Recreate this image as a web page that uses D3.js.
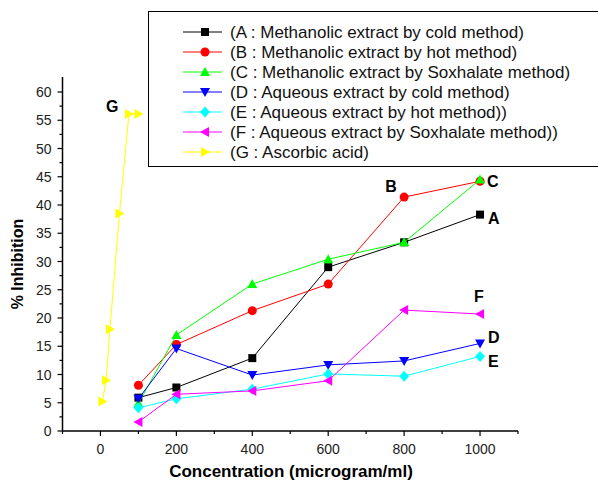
<!DOCTYPE html>
<html>
<head>
<meta charset="utf-8">
<script src="https://cdn.jsdelivr.net/npm/d3@7"></script>
<style>
  body { margin: 0; background: #fff; }
  svg { font-family: Arial, "Liberation Sans", sans-serif; }
</style>
</head>
<body>
<div id="chart"></div>
<script>
// concentrations for the extracts
var conc = [100, 200, 400, 600, 800, 1000];
var seriesA = [5.9, 7.7, 12.9, 29.0, 33.4, 38.3];
var seriesB = [8.1, 15.3, 21.3, 26.0, 41.4, 44.2];
var seriesC = [4.9, 17.0, 26.0, 30.4, 33.4, 44.5];
var seriesD = [5.7, 14.6, 9.9, 11.7, 12.4, 15.5];
var seriesE = [4.1, 5.7, 7.4, 10.1, 9.7, 13.2];
var seriesF = [1.6, 6.5, 7.1, 8.9, 21.4, 20.7];
// ascorbic acid has its own concentrations
var concG = [5, 15, 25, 50, 75, 100];
var seriesG = [5.2, 9.0, 18.0, 38.5, 56.1, 56.1];

var legendLabels = [
  "(A : Methanolic extract by cold method)",
  "(B : Methanolic extract by hot method)",
  "(C : Methanolic extract by Soxhalate method)",
  "(D : Aqueous extract by cold method)",
  "(E : Aqueous extract by hot method))",
  "(F : Aqueous extract by Soxhalate method))",
  "(G : Ascorbic acid)"
];
var colors = ["#000000", "#ff0000", "#00ff00", "#0000ff", "#00ffff", "#ff00ff", "#ffff00"];
var shapes = ["square", "circle", "up", "down", "diamond", "left", "right"];
var letters = ["A", "B", "C", "D", "E", "F", "G"];
var xTicks = [0, 200, 400, 600, 800, 1000];
var yTicks = [0, 5, 10, 15, 20, 25, 30, 35, 40, 45, 50, 55, 60];

var series = [
  {x: conc, y: seriesA}, {x: conc, y: seriesB}, {x: conc, y: seriesC},
  {x: conc, y: seriesD}, {x: conc, y: seriesE}, {x: conc, y: seriesF},
  {x: concG, y: seriesG}
];

var width = 598, height = 481;
var svg = d3.select("#chart").append("svg")
  .attr("width", width).attr("height", height);

var x = d3.scaleLinear().domain([-100, 1100]).range([62.5, 518]);
var y = d3.scaleLinear().domain([0, 60]).range([431, 92]);

// marker path generator
function marker(shape) {
  switch (shape) {
    case "square": return "M-4,-4H4V4H-4Z";
    case "circle": return d3.symbol(d3.symbolCircle, 64)();
    case "up": return "M0,-5L5,4H-5Z";
    case "down": return "M0,5L5,-4H-5Z";
    case "diamond": return "M0,-5.5L5,0L0,5.5L-5,0Z";
    case "left": return "M-5,0L4,-5V5Z";
    case "right": return "M5,0L-4,-5V5Z";
  }
}

// axes
var xAxis = svg.append("g").attr("transform", "translate(0," + y(0) + ")");
xAxis.append("line").attr("x1", x(-100)).attr("x2", x(1100)).attr("stroke", "#000").attr("stroke-width", 1.5);
d3.range(-100, 1101, 100).forEach(function(v) {
  var major = xTicks.indexOf(v) >= 0;
  xAxis.append("line").attr("x1", x(v)).attr("x2", x(v))
    .attr("y1", 0).attr("y2", major ? 5 : 3).attr("stroke", "#000").attr("stroke-width", 1.2);
});
xAxis.selectAll("text.tick").data(xTicks).enter().append("text")
  .attr("x", function(d) { return x(d); }).attr("y", 23)
  .attr("text-anchor", "middle").attr("font-size", 14).attr("fill", "#222")
  .text(function(d) { return d; });

var yAxis = svg.append("g").attr("transform", "translate(" + x(-100) + ",0)");
yAxis.append("line").attr("y1", y(0)).attr("y2", 77).attr("stroke", "#000").attr("stroke-width", 1.5);
d3.range(0, 61, 2.5).forEach(function(v) {
  var major = v % 5 === 0;
  yAxis.append("line").attr("x1", 0).attr("x2", major ? -5 : -3)
    .attr("y1", y(v)).attr("y2", y(v)).attr("stroke", "#000").attr("stroke-width", 1.2);
});
yAxis.selectAll("text.tick").data(yTicks).enter().append("text")
  .attr("x", -11).attr("y", function(d) { return y(d) + 5; })
  .attr("text-anchor", "end").attr("font-size", 14).attr("fill", "#222")
  .text(function(d) { return d; });

svg.append("text").attr("x", 291).attr("y", 477).attr("text-anchor", "middle")
  .attr("font-size", 17).attr("font-weight", "bold").text("Concentration (microgram/ml)");
svg.append("text").attr("transform", "translate(23,264) rotate(-90)").attr("text-anchor", "middle")
  .attr("font-size", 16).attr("font-weight", "bold").text("% Inhibition");

// lines and markers
var line = d3.line().x(function(d) { return x(d[0]); }).y(function(d) { return y(d[1]); });
series.forEach(function(s, i) {
  var pts = s.x.map(function(v, j) { return [v, s.y[j]]; });
  svg.append("path").datum(pts).attr("d", line)
    .attr("fill", "none").attr("stroke", colors[i]).attr("stroke-width", 1);
  svg.selectAll(".m" + i).data(pts).enter().append("path")
    .attr("transform", function(d) { return "translate(" + x(d[0]) + "," + y(d[1]) + ")"; })
    .attr("d", marker(shapes[i])).attr("fill", colors[i]);
});

// letter labels, anchored to a data point of each series
var labelPos = [
  {i: 0, j: 5, dx: 8, dy: 9}, {i: 1, j: 4, dx: -19, dy: -5}, {i: 2, j: 5, dx: 7, dy: 7},
  {i: 3, j: 5, dx: 8, dy: 0}, {i: 4, j: 5, dx: 8, dy: 11}, {i: 5, j: 5, dx: -6, dy: -12},
  {i: 6, j: 4, dx: -23, dy: -2}
];
labelPos.forEach(function(p) {
  var s = series[p.i];
  svg.append("text").attr("x", x(s.x[p.j]) + p.dx).attr("y", y(s.y[p.j]) + p.dy)
    .attr("font-size", 16).attr("font-weight", "bold").text(letters[p.i]);
});

// legend
var lg = svg.append("g");
lg.append("rect").attr("x", 148.5).attr("y", 11.5).attr("width", 460).attr("height", 155)
  .attr("fill", "#fff").attr("stroke", "#000").attr("stroke-width", 1);
legendLabels.forEach(function(t, i) {
  var cy = 32 + i * 20;
  lg.append("line").attr("x1", 183).attr("x2", 222).attr("y1", cy).attr("y2", cy)
    .attr("stroke", colors[i]).attr("stroke-width", 1);
  lg.append("path").attr("transform", "translate(205," + cy + ")")
    .attr("d", marker(shapes[i])).attr("fill", colors[i]);
  lg.append("text").attr("x", 230).attr("y", cy + 6).attr("font-size", 17).attr("fill", "#111").text(t);
});
</script>
</body>
</html>
